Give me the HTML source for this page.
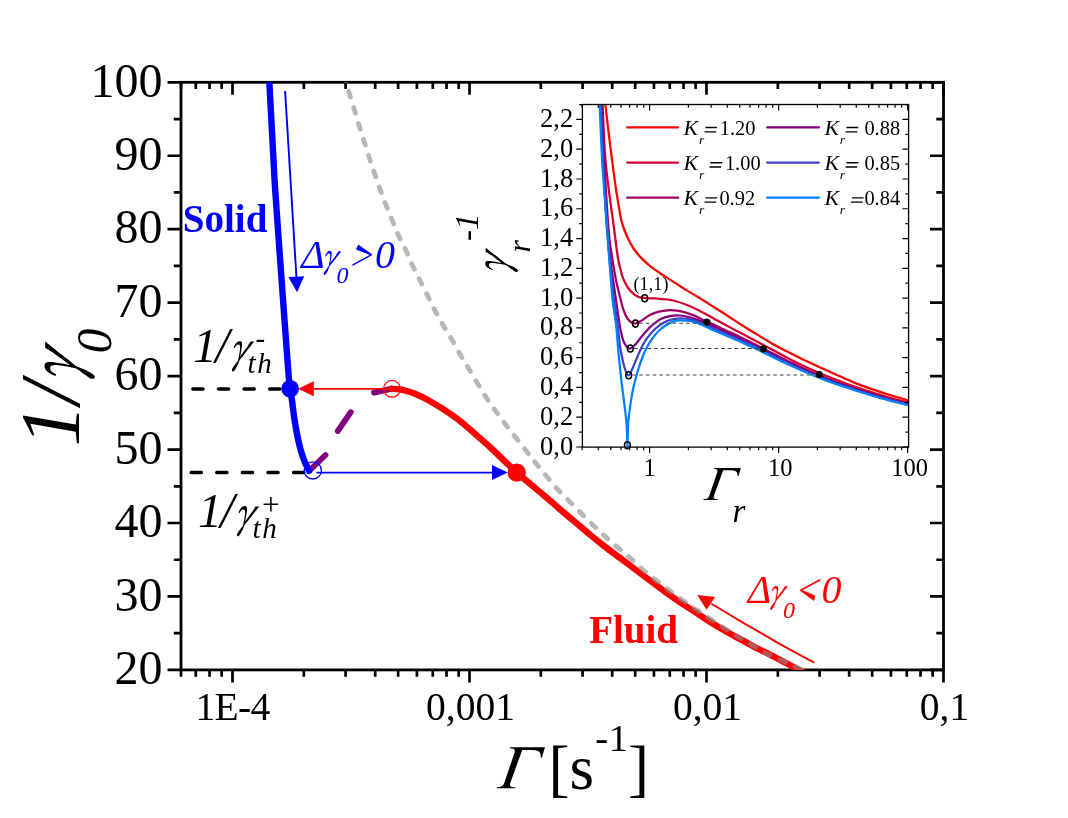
<!DOCTYPE html>
<html><head><meta charset="utf-8"><title>chart</title>
<style>
html,body{margin:0;padding:0;background:#fff;}
body{width:1068px;height:818px;overflow:hidden;}
svg{display:block;font-family:"Liberation Serif",serif;will-change:transform;}
text{fill:#000;}
</style></head><body>
<svg width="1068" height="818" viewBox="0 0 1068 818">
<rect width="1068" height="818" fill="#fff"/>
<rect x="181.0" y="82.3" width="762.5" height="587.6" fill="none" stroke="#000" stroke-width="2.8"/>
<path d="M181.00 669.9 v6.8 M181.00 82.3 v6.8 M195.79 669.9 v6.8 M195.79 82.3 v6.8 M209.53 669.9 v6.8 M209.53 82.3 v6.8 M221.66 669.9 v6.8 M221.66 82.3 v6.8 M232.50 669.9 v12.5 M232.50 82.3 v12.5 M303.84 669.9 v6.8 M303.84 82.3 v6.8 M345.58 669.9 v6.8 M345.58 82.3 v6.8 M375.19 669.9 v6.8 M375.19 82.3 v6.8 M398.16 669.9 v6.8 M398.16 82.3 v6.8 M416.92 669.9 v6.8 M416.92 82.3 v6.8 M432.79 669.9 v6.8 M432.79 82.3 v6.8 M446.53 669.9 v6.8 M446.53 82.3 v6.8 M458.66 669.9 v6.8 M458.66 82.3 v6.8 M469.50 669.9 v12.5 M469.50 82.3 v12.5 M540.84 669.9 v6.8 M540.84 82.3 v6.8 M582.58 669.9 v6.8 M582.58 82.3 v6.8 M612.19 669.9 v6.8 M612.19 82.3 v6.8 M635.16 669.9 v6.8 M635.16 82.3 v6.8 M653.92 669.9 v6.8 M653.92 82.3 v6.8 M669.79 669.9 v6.8 M669.79 82.3 v6.8 M683.53 669.9 v6.8 M683.53 82.3 v6.8 M695.66 669.9 v6.8 M695.66 82.3 v6.8 M706.50 669.9 v12.5 M706.50 82.3 v12.5 M777.84 669.9 v6.8 M777.84 82.3 v6.8 M819.58 669.9 v6.8 M819.58 82.3 v6.8 M849.19 669.9 v6.8 M849.19 82.3 v6.8 M872.16 669.9 v6.8 M872.16 82.3 v6.8 M890.92 669.9 v6.8 M890.92 82.3 v6.8 M906.79 669.9 v6.8 M906.79 82.3 v6.8 M920.53 669.9 v6.8 M920.53 82.3 v6.8 M932.66 669.9 v6.8 M932.66 82.3 v6.8 M943.50 669.9 v12.5 M943.50 82.3 v12.5 M181.0 669.90 h-13.5 M943.5 669.90 h-13.5 M181.0 633.17 h-7.2 M943.5 633.17 h-7.2 M181.0 596.45 h-13.5 M943.5 596.45 h-13.5 M181.0 559.73 h-7.2 M943.5 559.73 h-7.2 M181.0 523.00 h-13.5 M943.5 523.00 h-13.5 M181.0 486.28 h-7.2 M943.5 486.28 h-7.2 M181.0 449.55 h-13.5 M943.5 449.55 h-13.5 M181.0 412.82 h-7.2 M943.5 412.82 h-7.2 M181.0 376.10 h-13.5 M943.5 376.10 h-13.5 M181.0 339.38 h-7.2 M943.5 339.38 h-7.2 M181.0 302.65 h-13.5 M943.5 302.65 h-13.5 M181.0 265.93 h-7.2 M943.5 265.93 h-7.2 M181.0 229.20 h-13.5 M943.5 229.20 h-13.5 M181.0 192.47 h-7.2 M943.5 192.47 h-7.2 M181.0 155.75 h-13.5 M943.5 155.75 h-13.5 M181.0 119.03 h-7.2 M943.5 119.03 h-7.2 M181.0 82.30 h-13.5 M943.5 82.30 h-13.5" stroke="#000" stroke-width="2.7" fill="none"/>
<text x="162.6" y="684.1" font-size="48" text-anchor="end">20</text>
<text x="162.6" y="610.6" font-size="48" text-anchor="end">30</text>
<text x="162.6" y="537.2" font-size="48" text-anchor="end">40</text>
<text x="162.6" y="463.8" font-size="48" text-anchor="end">50</text>
<text x="162.6" y="390.3" font-size="48" text-anchor="end">60</text>
<text x="162.6" y="316.8" font-size="48" text-anchor="end">70</text>
<text x="162.6" y="243.4" font-size="48" text-anchor="end">80</text>
<text x="162.6" y="169.9" font-size="48" text-anchor="end">90</text>
<text x="162.6" y="96.5" font-size="48" text-anchor="end">100</text>
<text x="232.5" y="720.2" font-size="39.5" text-anchor="middle" letter-spacing="-0.7">1E-4</text>
<text x="470.5" y="720.2" font-size="39.5" text-anchor="middle">0,001</text>
<text x="707.5" y="720.2" font-size="39.5" text-anchor="middle">0,01</text>
<text x="944.5" y="720.2" font-size="39.5" text-anchor="middle">0,1</text>
<clipPath id="mc"><rect x="181.0" y="82.3" width="762.5" height="587.6"/></clipPath>
<g clip-path="url(#mc)">
<g stroke="#800080" stroke-width="5.8" stroke-linecap="round" fill="none">
<path d="M310.5 469.5 L325.5 455"/><path d="M337.8 431 L350.8 412.2"/><path d="M374 392.6 L392 388.6"/>
</g>
<path d="M391.30 388.80 C392.25 388.85 394.93 388.87 397.00 389.10 C399.07 389.33 400.70 389.43 403.70 390.20 C406.70 390.97 410.88 392.03 415.00 393.70 C419.12 395.37 423.57 397.53 428.40 400.20 C433.23 402.87 438.73 406.23 444.00 409.70 C449.27 413.17 454.73 416.88 460.00 421.00 C465.27 425.12 470.38 429.85 475.60 434.40 C480.82 438.95 486.43 443.82 491.30 448.30 C496.17 452.78 500.55 457.30 504.80 461.30 C509.05 465.30 512.60 468.55 516.80 472.30 C521.00 476.05 525.32 479.82 530.00 483.80 C534.68 487.78 539.92 491.97 544.90 496.20 C549.88 500.43 554.90 504.92 559.90 509.20 C564.90 513.48 569.90 517.67 574.90 521.90 C579.90 526.13 584.90 530.48 589.90 534.60 C594.90 538.72 599.90 542.72 604.90 546.60 C609.90 550.48 614.88 554.13 619.90 557.90 C624.92 561.67 629.98 565.43 635.00 569.20 C640.02 572.97 645.02 576.75 650.00 580.50 C654.98 584.25 659.92 588.08 664.90 591.70 C669.88 595.32 674.90 598.83 679.90 602.20 C684.90 605.57 689.90 608.65 694.90 611.90 C699.90 615.15 704.90 618.57 709.90 621.70 C714.90 624.83 719.90 627.83 724.90 630.70 C729.90 633.57 734.92 636.17 739.90 638.90 C744.88 641.63 749.82 644.48 754.80 647.10 C759.78 649.72 765.60 652.47 769.80 654.60 C774.00 656.73 775.40 657.50 780.00 659.90 C784.60 662.30 792.73 666.57 797.40 669.00 C802.07 671.43 806.23 673.58 808.00 674.50" fill="none" stroke="#ff0000" stroke-width="6.4" stroke-linecap="round"/>
<path d="M345.60 80.00 C346.22 82.25 347.82 88.50 349.30 93.50 C350.78 98.50 352.85 104.60 354.50 110.00 C356.15 115.40 357.57 120.60 359.20 125.90 C360.83 131.20 362.62 136.50 364.30 141.80 C365.98 147.10 367.58 152.40 369.30 157.70 C371.02 163.00 372.78 168.28 374.60 173.60 C376.42 178.92 378.27 184.28 380.20 189.60 C382.13 194.92 384.12 200.20 386.20 205.50 C388.28 210.80 390.62 216.32 392.70 221.40 C394.78 226.48 396.45 231.07 398.70 236.00 C400.95 240.93 403.85 246.00 406.20 251.00 C408.55 256.00 410.45 261.00 412.80 266.00 C415.15 271.00 417.80 276.00 420.30 281.00 C422.80 286.00 425.32 291.00 427.80 296.00 C430.28 301.00 432.55 306.00 435.20 311.00 C437.85 316.00 440.88 321.17 443.70 326.00 C446.52 330.83 449.30 335.17 452.10 340.00 C454.90 344.83 457.68 350.17 460.50 355.00 C463.32 359.83 464.60 361.77 469.00 369.00 C473.40 376.23 480.90 389.30 486.90 398.40 C492.90 407.50 498.37 414.75 505.00 423.60 C511.63 432.45 521.42 444.73 526.70 451.50 C531.98 458.27 533.28 459.95 536.70 464.20 C540.12 468.45 543.70 472.82 547.20 477.00 C550.70 481.18 553.95 485.18 557.70 489.30 C561.45 493.42 565.72 497.63 569.70 501.70 C573.68 505.77 577.62 509.70 581.60 513.70 C585.58 517.70 589.60 521.83 593.60 525.70 C597.60 529.57 601.47 533.17 605.60 536.90 C609.73 540.63 614.15 544.43 618.40 548.10 C622.65 551.77 626.83 555.13 631.10 558.90 C635.37 562.67 639.65 566.98 644.00 570.70 C648.35 574.42 652.72 577.70 657.20 581.20 C661.68 584.70 666.37 588.33 670.90 591.70 C675.43 595.07 679.90 598.23 684.40 601.40 C688.90 604.57 693.28 607.57 697.90 610.70 C702.52 613.83 707.35 617.07 712.10 620.20 C716.85 623.33 721.65 626.52 726.40 629.50 C731.15 632.48 735.87 635.23 740.60 638.10 C745.33 640.97 749.93 643.88 754.80 646.70 C759.67 649.52 762.00 651.20 769.80 655.00 C777.60 658.80 794.57 666.33 801.60 669.50 C808.63 672.67 810.27 673.25 812.00 674.00" fill="none" stroke="#8a8a8a" stroke-opacity="0.62" stroke-width="4.8" stroke-linecap="round" stroke-dasharray="6 10.7" stroke-dashoffset="-11.9"/>
</g>
<g clip-path="url(#mc)"><path d="M269.20 80.00 C269.23 80.50 268.72 70.33 269.40 83.00 C270.08 95.67 272.33 138.17 273.30 156.00 C274.27 173.83 273.82 169.33 275.20 190.00 C276.58 210.67 279.43 250.00 281.60 280.00 C283.77 310.00 286.78 351.87 288.20 370.00 C289.62 388.13 289.45 383.60 290.10 388.80 C290.75 394.00 291.40 396.28 292.10 401.20 C292.80 406.12 293.48 412.83 294.30 418.30 C295.12 423.77 295.95 428.77 297.00 434.00 C298.05 439.23 299.33 445.12 300.60 449.70 C301.87 454.28 303.18 457.98 304.60 461.50 C306.02 465.02 308.35 469.25 309.10 470.80" fill="none" stroke="#0000ff" stroke-width="6.4" stroke-linecap="round"/></g>
<path d="M192.8 389 H290" stroke="#000" stroke-width="3.3" stroke-linecap="round" stroke-dasharray="10.3 15.3" fill="none"/>
<path d="M191.1 472.5 H306" stroke="#000" stroke-width="3.3" stroke-linecap="round" stroke-dasharray="10.3 15.3" fill="none"/>
<path d="M285.1 91 L296.6 280" stroke="#0000ff" stroke-width="1.9" fill="none"/>
<path d="M297.1 292.2 L288.3 276.9 L304.2 276.2 Z" fill="#0000ff"/>
<path d="M392 388.8 H310" stroke="#ff0000" stroke-width="1.7" fill="none"/>
<path d="M298 388.8 L313.8 381.3 L313.8 396.3 Z" fill="#ff0000"/>
<path d="M316.4 472.6 H495" stroke="#0000ff" stroke-width="1.6" fill="none"/>
<path d="M507.8 472.6 L492 465.1 L492 480.1 Z" fill="#0000ff"/>
<path d="M814.20 662.60 C808.50 659.52 787.40 648.18 780.00 644.10 C772.60 640.02 776.48 641.97 769.80 638.10 C763.12 634.23 749.63 626.63 739.90 620.90 C730.17 615.17 716.15 606.57 711.40 603.70" stroke="#ff0000" stroke-width="1.9" fill="none"/>
<path d="M697.2 595.1 L715.1 596.9 L706.6 609.7 Z" fill="#ff0000"/>
<circle cx="290.1" cy="388.8" r="8.9" fill="#0000ff"/>
<circle cx="516.7" cy="472.6" r="9.2" fill="#ff0000"/>
<circle cx="312.8" cy="470.4" r="8.6" fill="none" stroke="#0000ff" stroke-width="1.3"/>
<circle cx="392" cy="388.8" r="8.4" fill="none" stroke="#ff0000" stroke-width="1.3"/>
<path d="M0.2112 -0.6507 L0.7659 -0.6507 L0.7169 -0.4865 L0.6977 -0.4929 C0.7019 -0.5633 0.6827 -0.6038 0.5761 -0.6070 L0.4054 -0.6081 L0.2155 -0.0832 C0.2027 -0.0405 0.2134 -0.0192 0.2987 -0.0160 L0.2966 0.0011 L0.0000 0.0011 L0.0021 -0.0160 C0.0747 -0.0192 0.1013 -0.0352 0.1195 -0.0832 L0.2859 -0.5739 C0.2966 -0.6166 0.2774 -0.6337 0.2091 -0.6358 Z" transform="translate(496.7 788.3) scale(63)" fill="#000" stroke="none"/>
<text x="548.6" y="788.8" font-size="63">[s</text>
<text x="595.2" y="751.2" font-size="38.5">-</text><text x="608.8" y="751.2" font-size="38.5">1</text>
<text x="628" y="788.8" font-size="63">]</text>
<g transform="translate(79.3 446.6) rotate(-90)"><text x="0" y="0" font-size="84" font-style="italic">1/</text><path d="M0.4486 -0.4063 C0.4302 -0.3831 0.3738 -0.3126 0.3381 -0.2670 C0.3024 -0.2215 0.2628 -0.1688 0.2343 -0.1331 C0.2059 -0.0974 0.1830 -0.0751 0.1674 -0.0528 C0.1518 -0.0304 0.1495 -0.0193 0.1406 0.0008 C0.1317 0.0209 0.1244 0.0454 0.1138 0.0678 C0.1032 0.0901 0.0882 0.1169 0.0770 0.1347 C0.0658 0.1526 0.0547 0.1665 0.0469 0.1749 C0.0391 0.1833 0.0357 0.1844 0.0301 0.1849 C0.0246 0.1855 0.0173 0.1833 0.0134 0.1782 C0.0095 0.1732 0.0061 0.1643 0.0067 0.1548 C0.0073 0.1453 0.0089 0.1358 0.0167 0.1213 C0.0246 0.1068 0.0407 0.0856 0.0536 0.0678 C0.0664 0.0499 0.0820 0.0298 0.0937 0.0142 C0.1055 -0.0014 0.1181 -0.0171 0.1239 -0.0260 C0.1297 -0.0349 0.1278 -0.0371 0.1286 -0.0394 C0.1306 -0.0483 0.1364 -0.0717 0.1406 -0.0929 C0.1448 -0.1141 0.1501 -0.1432 0.1540 -0.1666 C0.1579 -0.1900 0.1616 -0.2112 0.1640 -0.2335 C0.1665 -0.2559 0.1693 -0.2838 0.1687 -0.3005 C0.1682 -0.3172 0.1665 -0.3262 0.1607 -0.3340 C0.1549 -0.3418 0.1428 -0.3463 0.1339 -0.3474 C0.1250 -0.3485 0.1161 -0.3463 0.1071 -0.3407 C0.0982 -0.3351 0.0882 -0.3245 0.0803 -0.3139 C0.0725 -0.3033 0.0636 -0.2832 0.0603 -0.2771 L0.0402 -0.2804 C0.0424 -0.2871 0.0458 -0.3050 0.0536 -0.3206 C0.0614 -0.3362 0.0759 -0.3602 0.0870 -0.3742 C0.0982 -0.3881 0.1094 -0.3976 0.1205 -0.4043 C0.1317 -0.4110 0.1428 -0.4138 0.1540 -0.4143 C0.1652 -0.4149 0.1791 -0.4132 0.1875 -0.4076 C0.1958 -0.4021 0.2011 -0.3931 0.2042 -0.3809 C0.2073 -0.3686 0.2073 -0.3530 0.2062 -0.3340 C0.2051 -0.3150 0.2012 -0.2916 0.1975 -0.2670 C0.1938 -0.2425 0.1892 -0.2123 0.1841 -0.1867 C0.1791 -0.1610 0.1702 -0.1253 0.1674 -0.1130 C0.1786 -0.1275 0.2109 -0.1688 0.2343 -0.2001 C0.2578 -0.2313 0.2846 -0.2661 0.3080 -0.3005 C0.3314 -0.3349 0.3638 -0.3887 0.3750 -0.4063 Z" transform="translate(67.3 0) scale(84)" fill="#000" stroke="none"/><text x="93.2" y="31.7" font-size="50" font-style="italic">0</text></g>
<text x="182.8" y="231.6" font-size="39" font-weight="bold" fill="#0000ff" style="fill:#0000ff">Solid</text>
<text x="589.2" y="642.7" font-size="39" font-weight="bold" style="fill:#ff0000">Fluid</text>
<g style="fill:#0000ff" font-style="italic"><text x="301.3" y="267.5" font-size="40" style="fill:#0000ff">Δ</text><path d="M0.4486 -0.4063 C0.4302 -0.3831 0.3738 -0.3126 0.3381 -0.2670 C0.3024 -0.2215 0.2628 -0.1688 0.2343 -0.1331 C0.2059 -0.0974 0.1830 -0.0751 0.1674 -0.0528 C0.1518 -0.0304 0.1495 -0.0193 0.1406 0.0008 C0.1317 0.0209 0.1244 0.0454 0.1138 0.0678 C0.1032 0.0901 0.0882 0.1169 0.0770 0.1347 C0.0658 0.1526 0.0547 0.1665 0.0469 0.1749 C0.0391 0.1833 0.0357 0.1844 0.0301 0.1849 C0.0246 0.1855 0.0173 0.1833 0.0134 0.1782 C0.0095 0.1732 0.0061 0.1643 0.0067 0.1548 C0.0073 0.1453 0.0089 0.1358 0.0167 0.1213 C0.0246 0.1068 0.0407 0.0856 0.0536 0.0678 C0.0664 0.0499 0.0820 0.0298 0.0937 0.0142 C0.1055 -0.0014 0.1181 -0.0171 0.1239 -0.0260 C0.1297 -0.0349 0.1278 -0.0371 0.1286 -0.0394 C0.1306 -0.0483 0.1364 -0.0717 0.1406 -0.0929 C0.1448 -0.1141 0.1501 -0.1432 0.1540 -0.1666 C0.1579 -0.1900 0.1616 -0.2112 0.1640 -0.2335 C0.1665 -0.2559 0.1693 -0.2838 0.1687 -0.3005 C0.1682 -0.3172 0.1665 -0.3262 0.1607 -0.3340 C0.1549 -0.3418 0.1428 -0.3463 0.1339 -0.3474 C0.1250 -0.3485 0.1161 -0.3463 0.1071 -0.3407 C0.0982 -0.3351 0.0882 -0.3245 0.0803 -0.3139 C0.0725 -0.3033 0.0636 -0.2832 0.0603 -0.2771 L0.0402 -0.2804 C0.0424 -0.2871 0.0458 -0.3050 0.0536 -0.3206 C0.0614 -0.3362 0.0759 -0.3602 0.0870 -0.3742 C0.0982 -0.3881 0.1094 -0.3976 0.1205 -0.4043 C0.1317 -0.4110 0.1428 -0.4138 0.1540 -0.4143 C0.1652 -0.4149 0.1791 -0.4132 0.1875 -0.4076 C0.1958 -0.4021 0.2011 -0.3931 0.2042 -0.3809 C0.2073 -0.3686 0.2073 -0.3530 0.2062 -0.3340 C0.2051 -0.3150 0.2012 -0.2916 0.1975 -0.2670 C0.1938 -0.2425 0.1892 -0.2123 0.1841 -0.1867 C0.1791 -0.1610 0.1702 -0.1253 0.1674 -0.1130 C0.1786 -0.1275 0.2109 -0.1688 0.2343 -0.2001 C0.2578 -0.2313 0.2846 -0.2661 0.3080 -0.3005 C0.3314 -0.3349 0.3638 -0.3887 0.3750 -0.4063 Z" transform="translate(323.5 267.5) scale(40)" fill="#0000ff" stroke="none"/><text x="336.5" y="283.0" font-size="24" style="fill:#0000ff">0</text><text x="375.0" y="267.5" font-size="40" style="fill:#0000ff">0</text></g>
<path d="M358.2 244.4 L371.6 254.0 L371.3 255.6 L356.0 249.6 Z" fill="#0000ff"/>
<path d="M371.2 254.9 L353.0 264.9" stroke="#0000ff" stroke-width="1.5" fill="none" stroke-linecap="round"/>
<g style="fill:#ff0000" font-style="italic"><text x="747.8" y="602.5" font-size="40" style="fill:#ff0000">Δ</text><path d="M0.4486 -0.4063 C0.4302 -0.3831 0.3738 -0.3126 0.3381 -0.2670 C0.3024 -0.2215 0.2628 -0.1688 0.2343 -0.1331 C0.2059 -0.0974 0.1830 -0.0751 0.1674 -0.0528 C0.1518 -0.0304 0.1495 -0.0193 0.1406 0.0008 C0.1317 0.0209 0.1244 0.0454 0.1138 0.0678 C0.1032 0.0901 0.0882 0.1169 0.0770 0.1347 C0.0658 0.1526 0.0547 0.1665 0.0469 0.1749 C0.0391 0.1833 0.0357 0.1844 0.0301 0.1849 C0.0246 0.1855 0.0173 0.1833 0.0134 0.1782 C0.0095 0.1732 0.0061 0.1643 0.0067 0.1548 C0.0073 0.1453 0.0089 0.1358 0.0167 0.1213 C0.0246 0.1068 0.0407 0.0856 0.0536 0.0678 C0.0664 0.0499 0.0820 0.0298 0.0937 0.0142 C0.1055 -0.0014 0.1181 -0.0171 0.1239 -0.0260 C0.1297 -0.0349 0.1278 -0.0371 0.1286 -0.0394 C0.1306 -0.0483 0.1364 -0.0717 0.1406 -0.0929 C0.1448 -0.1141 0.1501 -0.1432 0.1540 -0.1666 C0.1579 -0.1900 0.1616 -0.2112 0.1640 -0.2335 C0.1665 -0.2559 0.1693 -0.2838 0.1687 -0.3005 C0.1682 -0.3172 0.1665 -0.3262 0.1607 -0.3340 C0.1549 -0.3418 0.1428 -0.3463 0.1339 -0.3474 C0.1250 -0.3485 0.1161 -0.3463 0.1071 -0.3407 C0.0982 -0.3351 0.0882 -0.3245 0.0803 -0.3139 C0.0725 -0.3033 0.0636 -0.2832 0.0603 -0.2771 L0.0402 -0.2804 C0.0424 -0.2871 0.0458 -0.3050 0.0536 -0.3206 C0.0614 -0.3362 0.0759 -0.3602 0.0870 -0.3742 C0.0982 -0.3881 0.1094 -0.3976 0.1205 -0.4043 C0.1317 -0.4110 0.1428 -0.4138 0.1540 -0.4143 C0.1652 -0.4149 0.1791 -0.4132 0.1875 -0.4076 C0.1958 -0.4021 0.2011 -0.3931 0.2042 -0.3809 C0.2073 -0.3686 0.2073 -0.3530 0.2062 -0.3340 C0.2051 -0.3150 0.2012 -0.2916 0.1975 -0.2670 C0.1938 -0.2425 0.1892 -0.2123 0.1841 -0.1867 C0.1791 -0.1610 0.1702 -0.1253 0.1674 -0.1130 C0.1786 -0.1275 0.2109 -0.1688 0.2343 -0.2001 C0.2578 -0.2313 0.2846 -0.2661 0.3080 -0.3005 C0.3314 -0.3349 0.3638 -0.3887 0.3750 -0.4063 Z" transform="translate(770.0 602.5) scale(40)" fill="#ff0000" stroke="none"/><text x="783" y="618.0" font-size="24" style="fill:#ff0000">0</text><text x="821.5" y="602.5" font-size="40" style="fill:#ff0000">0</text></g>
<path d="M800.7 589.3 L815.4 595.8 L814.0 601.1 L800.4 590.9 Z" fill="#ff0000"/>
<path d="M801.0 590.0 L819.8 580.0" stroke="#ff0000" stroke-width="1.5" fill="none" stroke-linecap="round"/>
<g font-style="italic"><text x="193" y="362.1" font-size="48">1</text><text x="215.2" y="362.1" font-size="50">/</text><path d="M0.4486 -0.4063 C0.4302 -0.3831 0.3738 -0.3126 0.3381 -0.2670 C0.3024 -0.2215 0.2628 -0.1688 0.2343 -0.1331 C0.2059 -0.0974 0.1830 -0.0751 0.1674 -0.0528 C0.1518 -0.0304 0.1495 -0.0193 0.1406 0.0008 C0.1317 0.0209 0.1244 0.0454 0.1138 0.0678 C0.1032 0.0901 0.0882 0.1169 0.0770 0.1347 C0.0658 0.1526 0.0547 0.1665 0.0469 0.1749 C0.0391 0.1833 0.0357 0.1844 0.0301 0.1849 C0.0246 0.1855 0.0173 0.1833 0.0134 0.1782 C0.0095 0.1732 0.0061 0.1643 0.0067 0.1548 C0.0073 0.1453 0.0089 0.1358 0.0167 0.1213 C0.0246 0.1068 0.0407 0.0856 0.0536 0.0678 C0.0664 0.0499 0.0820 0.0298 0.0937 0.0142 C0.1055 -0.0014 0.1181 -0.0171 0.1239 -0.0260 C0.1297 -0.0349 0.1278 -0.0371 0.1286 -0.0394 C0.1306 -0.0483 0.1364 -0.0717 0.1406 -0.0929 C0.1448 -0.1141 0.1501 -0.1432 0.1540 -0.1666 C0.1579 -0.1900 0.1616 -0.2112 0.1640 -0.2335 C0.1665 -0.2559 0.1693 -0.2838 0.1687 -0.3005 C0.1682 -0.3172 0.1665 -0.3262 0.1607 -0.3340 C0.1549 -0.3418 0.1428 -0.3463 0.1339 -0.3474 C0.1250 -0.3485 0.1161 -0.3463 0.1071 -0.3407 C0.0982 -0.3351 0.0882 -0.3245 0.0803 -0.3139 C0.0725 -0.3033 0.0636 -0.2832 0.0603 -0.2771 L0.0402 -0.2804 C0.0424 -0.2871 0.0458 -0.3050 0.0536 -0.3206 C0.0614 -0.3362 0.0759 -0.3602 0.0870 -0.3742 C0.0982 -0.3881 0.1094 -0.3976 0.1205 -0.4043 C0.1317 -0.4110 0.1428 -0.4138 0.1540 -0.4143 C0.1652 -0.4149 0.1791 -0.4132 0.1875 -0.4076 C0.1958 -0.4021 0.2011 -0.3931 0.2042 -0.3809 C0.2073 -0.3686 0.2073 -0.3530 0.2062 -0.3340 C0.2051 -0.3150 0.2012 -0.2916 0.1975 -0.2670 C0.1938 -0.2425 0.1892 -0.2123 0.1841 -0.1867 C0.1791 -0.1610 0.1702 -0.1253 0.1674 -0.1130 C0.1786 -0.1275 0.2109 -0.1688 0.2343 -0.2001 C0.2578 -0.2313 0.2846 -0.2661 0.3080 -0.3005 C0.3314 -0.3349 0.3638 -0.3887 0.3750 -0.4063 Z" transform="translate(231.6 362.1) scale(50.5)" fill="#000" stroke="none"/><text x="247.6" y="372.8" font-size="29" letter-spacing="1.7">th</text></g>
<text x="255.6" y="347.70000000000005" font-size="29">-</text>
<g font-style="italic"><text x="198" y="527" font-size="48">1</text><text x="220.2" y="527" font-size="50">/</text><path d="M0.4486 -0.4063 C0.4302 -0.3831 0.3738 -0.3126 0.3381 -0.2670 C0.3024 -0.2215 0.2628 -0.1688 0.2343 -0.1331 C0.2059 -0.0974 0.1830 -0.0751 0.1674 -0.0528 C0.1518 -0.0304 0.1495 -0.0193 0.1406 0.0008 C0.1317 0.0209 0.1244 0.0454 0.1138 0.0678 C0.1032 0.0901 0.0882 0.1169 0.0770 0.1347 C0.0658 0.1526 0.0547 0.1665 0.0469 0.1749 C0.0391 0.1833 0.0357 0.1844 0.0301 0.1849 C0.0246 0.1855 0.0173 0.1833 0.0134 0.1782 C0.0095 0.1732 0.0061 0.1643 0.0067 0.1548 C0.0073 0.1453 0.0089 0.1358 0.0167 0.1213 C0.0246 0.1068 0.0407 0.0856 0.0536 0.0678 C0.0664 0.0499 0.0820 0.0298 0.0937 0.0142 C0.1055 -0.0014 0.1181 -0.0171 0.1239 -0.0260 C0.1297 -0.0349 0.1278 -0.0371 0.1286 -0.0394 C0.1306 -0.0483 0.1364 -0.0717 0.1406 -0.0929 C0.1448 -0.1141 0.1501 -0.1432 0.1540 -0.1666 C0.1579 -0.1900 0.1616 -0.2112 0.1640 -0.2335 C0.1665 -0.2559 0.1693 -0.2838 0.1687 -0.3005 C0.1682 -0.3172 0.1665 -0.3262 0.1607 -0.3340 C0.1549 -0.3418 0.1428 -0.3463 0.1339 -0.3474 C0.1250 -0.3485 0.1161 -0.3463 0.1071 -0.3407 C0.0982 -0.3351 0.0882 -0.3245 0.0803 -0.3139 C0.0725 -0.3033 0.0636 -0.2832 0.0603 -0.2771 L0.0402 -0.2804 C0.0424 -0.2871 0.0458 -0.3050 0.0536 -0.3206 C0.0614 -0.3362 0.0759 -0.3602 0.0870 -0.3742 C0.0982 -0.3881 0.1094 -0.3976 0.1205 -0.4043 C0.1317 -0.4110 0.1428 -0.4138 0.1540 -0.4143 C0.1652 -0.4149 0.1791 -0.4132 0.1875 -0.4076 C0.1958 -0.4021 0.2011 -0.3931 0.2042 -0.3809 C0.2073 -0.3686 0.2073 -0.3530 0.2062 -0.3340 C0.2051 -0.3150 0.2012 -0.2916 0.1975 -0.2670 C0.1938 -0.2425 0.1892 -0.2123 0.1841 -0.1867 C0.1791 -0.1610 0.1702 -0.1253 0.1674 -0.1130 C0.1786 -0.1275 0.2109 -0.1688 0.2343 -0.2001 C0.2578 -0.2313 0.2846 -0.2661 0.3080 -0.3005 C0.3314 -0.3349 0.3638 -0.3887 0.3750 -0.4063 Z" transform="translate(236.6 527) scale(50.5)" fill="#000" stroke="none"/><text x="252.6" y="537.7" font-size="29" letter-spacing="1.7">th</text></g>
<text x="262.0" y="515.3" font-size="31.5">+</text>
<rect x="582.4" y="104.5" width="326.20000000000005" height="342.6" fill="#fff" stroke="none"/>
<clipPath id="ic"><rect x="582.4" y="104.5" width="326.20000000000005" height="342.6"/></clipPath>
<g clip-path="url(#ic)" fill="none" stroke-width="2.25" stroke-linejoin="round">
<path d="M604.60 95.00 C604.73 96.58 604.78 98.67 605.40 104.50 C606.02 110.33 607.40 122.42 608.30 130.00 C609.20 137.58 609.95 143.27 610.80 150.00 C611.65 156.73 612.52 163.75 613.40 170.40 C614.28 177.05 615.12 183.40 616.10 189.90 C617.08 196.40 618.45 204.38 619.30 209.40 C620.15 214.42 620.47 216.90 621.20 220.00 C621.93 223.10 622.53 224.83 623.70 228.00 C624.87 231.17 626.45 235.42 628.20 239.00 C629.95 242.58 631.95 246.27 634.20 249.50 C636.45 252.73 639.08 255.67 641.70 258.40 C644.32 261.13 646.53 263.22 649.90 265.90 C653.27 268.58 657.90 271.80 661.90 274.50 C665.90 277.20 669.90 279.53 673.90 282.10 C677.90 284.67 681.90 287.42 685.90 289.90 C689.90 292.38 693.90 294.55 697.90 297.00 C701.90 299.45 705.92 302.10 709.90 304.60 C713.88 307.10 717.82 309.45 721.80 312.00 C725.78 314.55 729.70 317.23 733.80 319.90 C737.90 322.57 742.55 325.58 746.40 328.00 C750.25 330.42 752.35 331.67 756.90 334.40 C761.45 337.13 768.08 341.27 773.70 344.40 C779.32 347.53 784.98 350.33 790.60 353.20 C796.22 356.07 801.78 358.93 807.40 361.60 C813.02 364.27 818.68 366.67 824.30 369.20 C829.92 371.73 835.48 374.32 841.10 376.80 C846.72 379.28 852.38 381.88 858.00 384.10 C863.62 386.32 869.18 388.20 874.80 390.10 C880.42 392.00 886.08 393.78 891.70 395.50 C897.32 397.22 904.62 399.27 908.50 400.40 C912.38 401.53 913.92 401.98 915.00 402.30" stroke="#ff0000"/>
<path d="M601.90 95.00 C602.02 96.58 602.13 95.33 602.60 104.50 C603.07 113.67 603.97 138.25 604.70 150.00 C605.43 161.75 606.18 167.33 607.00 175.00 C607.82 182.67 608.48 187.50 609.60 196.00 C610.72 204.50 612.33 215.83 613.70 226.00 C615.07 236.17 616.63 249.67 617.80 257.00 C618.97 264.33 619.97 266.83 620.70 270.00 C621.43 273.17 621.52 274.00 622.20 276.00 C622.88 278.00 623.80 280.00 624.80 282.00 C625.80 284.00 626.88 286.13 628.20 288.00 C629.52 289.87 631.08 291.77 632.70 293.20 C634.32 294.63 635.90 295.77 637.90 296.60 C639.90 297.43 641.70 297.90 644.70 298.20 C647.70 298.50 653.35 298.28 655.90 298.40 C658.45 298.52 657.12 298.55 660.00 298.90 C662.88 299.25 668.80 299.52 673.20 300.50 C677.60 301.48 682.00 303.08 686.40 304.80 C690.80 306.52 695.20 308.60 699.60 310.80 C704.00 313.00 708.40 315.58 712.80 318.00 C717.20 320.42 721.47 322.87 726.00 325.30 C730.53 327.73 735.00 329.98 740.00 332.60 C745.00 335.23 750.67 338.22 756.00 341.04 C761.33 343.86 766.33 346.50 772.00 349.52 C777.67 352.55 784.00 356.13 790.00 359.20 C796.00 362.26 802.00 365.15 808.00 367.92 C814.00 370.70 820.00 373.36 826.00 375.82 C832.00 378.29 838.00 380.51 844.00 382.73 C850.00 384.94 856.00 387.09 862.00 389.11 C868.00 391.13 874.00 393.07 880.00 394.86 C886.00 396.65 893.25 398.55 898.00 399.85 C902.75 401.14 905.67 401.88 908.50 402.63 C911.33 403.37 913.92 404.02 915.00 404.30" stroke="#d40032"/>
<path d="M601.00 95.00 C601.12 96.58 601.17 93.67 601.70 104.50 C602.23 115.33 603.40 144.08 604.20 160.00 C605.00 175.92 605.65 187.08 606.50 200.00 C607.35 212.92 608.30 227.50 609.30 237.50 C610.30 247.50 611.35 252.75 612.50 260.00 C613.65 267.25 614.83 274.33 616.20 281.00 C617.57 287.67 619.45 295.08 620.70 300.00 C621.95 304.92 622.57 307.38 623.70 310.50 C624.83 313.62 626.13 316.65 627.50 318.70 C628.87 320.75 630.58 322.00 631.90 322.80 C633.22 323.60 633.90 323.80 635.40 323.50 C636.90 323.20 638.48 322.42 640.90 321.00 C643.32 319.58 646.90 316.55 649.90 315.00 C652.90 313.45 655.90 312.48 658.90 311.70 C661.90 310.92 664.90 310.47 667.90 310.30 C670.90 310.13 673.90 310.32 676.90 310.70 C679.90 311.08 682.90 311.73 685.90 312.60 C688.90 313.47 691.52 314.45 694.90 315.90 C698.28 317.35 702.67 319.65 706.20 321.30 C709.73 322.95 712.80 324.28 716.10 325.80 C719.40 327.32 722.02 328.55 726.00 330.40 C729.98 332.25 735.00 334.53 740.00 336.92 C745.00 339.30 750.67 342.05 756.00 344.72 C761.33 347.39 766.33 350.04 772.00 352.94 C777.67 355.85 784.00 359.21 790.00 362.13 C796.00 365.05 802.00 367.83 808.00 370.48 C814.00 373.13 820.00 375.66 826.00 378.02 C832.00 380.39 838.00 382.53 844.00 384.66 C850.00 386.78 856.00 388.81 862.00 390.76 C868.00 392.70 874.00 394.58 880.00 396.33 C886.00 398.07 893.25 399.94 898.00 401.20 C902.75 402.47 905.67 403.19 908.50 403.91 C911.33 404.63 913.92 405.27 915.00 405.55" stroke="#a00060"/>
<path d="M600.50 95.00 C600.62 96.58 600.68 93.67 601.20 104.50 C601.72 115.33 602.83 144.08 603.60 160.00 C604.37 175.92 605.03 187.08 605.80 200.00 C606.57 212.92 607.33 226.67 608.20 237.50 C609.07 248.33 610.07 257.08 611.00 265.00 C611.93 272.92 612.97 279.17 613.80 285.00 C614.63 290.83 615.20 294.50 616.00 300.00 C616.80 305.50 617.80 312.83 618.60 318.00 C619.40 323.17 619.93 327.00 620.80 331.00 C621.67 335.00 622.77 339.35 623.80 342.00 C624.83 344.65 625.92 345.82 627.00 346.90 C628.08 347.98 628.80 349.03 630.30 348.50 C631.80 347.97 634.07 345.75 636.00 343.70 C637.93 341.65 639.92 338.57 641.90 336.20 C643.88 333.83 646.15 331.37 647.90 329.50 C649.65 327.63 650.32 326.70 652.40 325.00 C654.48 323.30 657.48 320.77 660.40 319.30 C663.32 317.83 666.67 316.83 669.90 316.20 C673.13 315.57 676.50 315.30 679.80 315.50 C683.10 315.70 686.40 316.53 689.70 317.40 C693.00 318.27 696.30 319.50 699.60 320.70 C702.90 321.90 705.10 322.68 709.50 324.60 C713.90 326.52 720.92 329.88 726.00 332.20 C731.08 334.52 735.00 336.22 740.00 338.54 C745.00 340.85 750.67 343.48 756.00 346.09 C761.33 348.71 766.33 351.37 772.00 354.23 C777.67 357.08 784.00 360.37 790.00 363.23 C796.00 366.10 802.00 368.83 808.00 371.43 C814.00 374.04 820.00 376.52 826.00 378.85 C832.00 381.17 838.00 383.29 844.00 385.38 C850.00 387.47 856.00 389.46 862.00 391.37 C868.00 393.29 874.00 395.15 880.00 396.88 C886.00 398.60 893.25 400.46 898.00 401.71 C902.75 402.97 905.67 403.67 908.50 404.39 C911.33 405.11 913.92 405.75 915.00 406.02" stroke="#800080"/>
<path d="M600.00 95.00 C600.12 96.58 600.20 93.67 600.70 104.50 C601.20 115.33 602.28 144.08 603.00 160.00 C603.72 175.92 604.33 188.33 605.00 200.00 C605.67 211.67 606.25 220.00 607.00 230.00 C607.75 240.00 608.67 251.17 609.50 260.00 C610.33 268.83 611.25 276.33 612.00 283.00 C612.75 289.67 613.07 293.00 614.00 300.00 C614.93 307.00 616.57 317.08 617.60 325.00 C618.63 332.92 619.27 341.25 620.20 347.50 C621.13 353.75 622.27 358.52 623.20 362.50 C624.13 366.48 624.88 369.25 625.80 371.40 C626.72 373.55 627.63 375.77 628.70 375.40 C629.77 375.03 630.73 372.35 632.20 369.20 C633.67 366.05 635.88 360.25 637.50 356.50 C639.12 352.75 640.42 349.58 641.90 346.70 C643.38 343.82 644.65 341.70 646.40 339.20 C648.15 336.70 650.27 333.95 652.40 331.70 C654.53 329.45 656.87 327.45 659.20 325.70 C661.53 323.95 663.70 322.35 666.40 321.20 C669.10 320.05 672.65 319.25 675.40 318.80 C678.15 318.35 680.52 318.42 682.90 318.50 C685.28 318.58 686.92 318.65 689.70 319.30 C692.48 319.95 695.75 320.92 699.60 322.40 C703.45 323.88 708.40 326.23 712.80 328.20 C717.20 330.17 721.47 332.18 726.00 334.20 C730.53 336.22 735.00 338.09 740.00 340.33 C745.00 342.57 750.67 345.07 756.00 347.63 C761.33 350.18 766.33 352.85 772.00 355.65 C777.67 358.46 784.00 361.65 790.00 364.46 C796.00 367.26 802.00 369.95 808.00 372.50 C814.00 375.05 820.00 377.48 826.00 379.77 C832.00 382.05 838.00 384.13 844.00 386.18 C850.00 388.23 856.00 390.17 862.00 392.06 C868.00 393.94 874.00 395.78 880.00 397.49 C886.00 399.19 893.25 401.04 898.00 402.28 C902.75 403.52 905.67 404.22 908.50 404.93 C911.33 405.64 913.92 406.27 915.00 406.54" stroke="#4040c8"/>
<path d="M598.90 95.00 C599.02 96.58 599.07 93.67 599.60 104.50 C600.13 115.33 601.25 144.75 602.10 160.00 C602.95 175.25 603.88 185.17 604.70 196.00 C605.52 206.83 606.25 214.83 607.00 225.00 C607.75 235.17 608.27 244.50 609.20 257.00 C610.13 269.50 611.45 288.67 612.60 300.00 C613.75 311.33 615.08 315.83 616.10 325.00 C617.12 334.17 617.83 345.83 618.70 355.00 C619.57 364.17 620.55 373.33 621.30 380.00 C622.05 386.67 622.57 390.00 623.20 395.00 C623.83 400.00 624.53 405.00 625.10 410.00 C625.67 415.00 626.20 418.92 626.60 425.00 C627.00 431.08 627.35 442.92 627.50 446.50 M627.50 446.50 C627.60 442.92 627.82 430.47 628.10 425.00 C628.38 419.53 628.77 417.45 629.20 413.70 C629.63 409.95 630.13 406.25 630.70 402.50 C631.27 398.75 632.08 393.95 632.60 391.20 C633.12 388.45 633.23 388.30 633.80 386.00 C634.37 383.70 635.13 380.57 636.00 377.40 C636.87 374.23 637.88 370.48 639.00 367.00 C640.12 363.52 641.33 359.88 642.70 356.50 C644.07 353.12 645.58 349.70 647.20 346.70 C648.82 343.70 650.53 341.08 652.40 338.50 C654.27 335.92 656.15 333.42 658.40 331.20 C660.65 328.98 663.43 326.80 665.90 325.20 C668.37 323.60 670.88 322.42 673.20 321.60 C675.52 320.78 677.05 320.40 679.80 320.30 C682.55 320.20 686.40 320.38 689.70 321.00 C693.00 321.62 695.75 322.52 699.60 324.00 C703.45 325.48 708.40 327.98 712.80 329.90 C717.20 331.82 721.47 333.55 726.00 335.50 C730.53 337.45 735.00 339.39 740.00 341.59 C745.00 343.79 750.67 346.19 756.00 348.70 C761.33 351.21 766.33 353.88 772.00 356.65 C777.67 359.42 784.00 362.55 790.00 365.31 C796.00 368.08 802.00 370.73 808.00 373.24 C814.00 375.76 820.00 378.16 826.00 380.41 C832.00 382.66 838.00 384.72 844.00 386.74 C850.00 388.77 856.00 390.68 862.00 392.54 C868.00 394.40 874.00 396.23 880.00 397.92 C886.00 399.60 893.25 401.44 898.00 402.68 C902.75 403.91 905.67 404.60 908.50 405.30 C911.33 406.00 913.92 406.63 915.00 406.90" stroke="#0080ff"/>
</g>
<path d="M639 323.3 H704" stroke="#505050" stroke-width="1.1" stroke-dasharray="3.8 2.9" fill="none"/>
<path d="M634 348.5 H760" stroke="#404040" stroke-width="1.15" stroke-dasharray="3.8 2.9" fill="none"/>
<path d="M632.6 375 H816" stroke="#808080" stroke-width="1.6" stroke-dasharray="3.5 3.2" fill="none"/>
<ellipse cx="644.7" cy="298.3" rx="2.9" ry="3.5" fill="none" stroke="#000" stroke-width="1.55"/>
<ellipse cx="635.4" cy="323.6" rx="2.9" ry="3.5" fill="none" stroke="#000" stroke-width="1.55"/>
<ellipse cx="630.3" cy="348.5" rx="2.9" ry="3.5" fill="none" stroke="#000" stroke-width="1.55"/>
<ellipse cx="628.7" cy="375.2" rx="2.9" ry="3.5" fill="none" stroke="#000" stroke-width="1.55"/>
<ellipse cx="627.4" cy="445.3" rx="2.9" ry="3.5" fill="none" stroke="#000" stroke-width="1.55"/>
<circle cx="706.9" cy="322.1" r="3.55" fill="#000"/>
<circle cx="763.3" cy="348.9" r="3.55" fill="#000"/>
<circle cx="819.2" cy="374.5" r="3.55" fill="#000"/>
<rect x="582.4" y="104.5" width="326.20000000000005" height="342.6" fill="none" stroke="#000" stroke-width="1.3"/>
<path d="M582.15 447.1 v3.2 M582.15 104.5 v3.2 M598.27 447.1 v3.2 M598.27 104.5 v3.2 M610.77 447.1 v3.2 M610.77 104.5 v3.2 M620.98 447.1 v3.2 M620.98 104.5 v3.2 M629.62 447.1 v3.2 M629.62 104.5 v3.2 M637.10 447.1 v3.2 M637.10 104.5 v3.2 M643.70 447.1 v3.2 M643.70 104.5 v3.2 M649.60 447.1 v6.0 M649.60 104.5 v6.0 M688.43 447.1 v3.2 M688.43 104.5 v3.2 M711.15 447.1 v3.2 M711.15 104.5 v3.2 M727.27 447.1 v3.2 M727.27 104.5 v3.2 M739.77 447.1 v3.2 M739.77 104.5 v3.2 M749.98 447.1 v3.2 M749.98 104.5 v3.2 M758.62 447.1 v3.2 M758.62 104.5 v3.2 M766.10 447.1 v3.2 M766.10 104.5 v3.2 M772.70 447.1 v3.2 M772.70 104.5 v3.2 M778.60 447.1 v6.0 M778.60 104.5 v6.0 M817.43 447.1 v3.2 M817.43 104.5 v3.2 M840.15 447.1 v3.2 M840.15 104.5 v3.2 M856.27 447.1 v3.2 M856.27 104.5 v3.2 M868.77 447.1 v3.2 M868.77 104.5 v3.2 M878.98 447.1 v3.2 M878.98 104.5 v3.2 M887.62 447.1 v3.2 M887.62 104.5 v3.2 M895.10 447.1 v3.2 M895.10 104.5 v3.2 M901.70 447.1 v3.2 M901.70 104.5 v3.2 M907.60 447.1 v6.0 M907.60 104.5 v6.0 M582.4 447.00 h-6.2 M908.6 447.00 h-6.2 M582.4 432.11 h-3.2 M908.6 432.11 h-3.2 M582.4 417.22 h-6.2 M908.6 417.22 h-6.2 M582.4 402.33 h-3.2 M908.6 402.33 h-3.2 M582.4 387.44 h-6.2 M908.6 387.44 h-6.2 M582.4 372.55 h-3.2 M908.6 372.55 h-3.2 M582.4 357.66 h-6.2 M908.6 357.66 h-6.2 M582.4 342.77 h-3.2 M908.6 342.77 h-3.2 M582.4 327.88 h-6.2 M908.6 327.88 h-6.2 M582.4 312.99 h-3.2 M908.6 312.99 h-3.2 M582.4 298.10 h-6.2 M908.6 298.10 h-6.2 M582.4 283.21 h-3.2 M908.6 283.21 h-3.2 M582.4 268.32 h-6.2 M908.6 268.32 h-6.2 M582.4 253.43 h-3.2 M908.6 253.43 h-3.2 M582.4 238.54 h-6.2 M908.6 238.54 h-6.2 M582.4 223.65 h-3.2 M908.6 223.65 h-3.2 M582.4 208.76 h-6.2 M908.6 208.76 h-6.2 M582.4 193.87 h-3.2 M908.6 193.87 h-3.2 M582.4 178.98 h-6.2 M908.6 178.98 h-6.2 M582.4 164.09 h-3.2 M908.6 164.09 h-3.2 M582.4 149.20 h-6.2 M908.6 149.20 h-6.2 M582.4 134.31 h-3.2 M908.6 134.31 h-3.2 M582.4 119.42 h-6.2 M908.6 119.42 h-6.2 M582.4 104.53 h-3.2 M908.6 104.53 h-3.2" stroke="#000" stroke-width="1.2" fill="none"/>
<text x="573.2" y="454.5" font-size="26.5" text-anchor="end">0,0</text>
<text x="573.2" y="424.7" font-size="26.5" text-anchor="end">0,2</text>
<text x="573.2" y="394.9" font-size="26.5" text-anchor="end">0,4</text>
<text x="573.2" y="365.2" font-size="26.5" text-anchor="end">0,6</text>
<text x="573.2" y="335.4" font-size="26.5" text-anchor="end">0,8</text>
<text x="573.2" y="305.6" font-size="26.5" text-anchor="end">1,0</text>
<text x="573.2" y="275.8" font-size="26.5" text-anchor="end">1,2</text>
<text x="573.2" y="246.0" font-size="26.5" text-anchor="end">1,4</text>
<text x="573.2" y="216.3" font-size="26.5" text-anchor="end">1,6</text>
<text x="573.2" y="186.5" font-size="26.5" text-anchor="end">1,8</text>
<text x="573.2" y="156.7" font-size="26.5" text-anchor="end">2,0</text>
<text x="573.2" y="126.9" font-size="26.5" text-anchor="end">2,2</text>
<text x="649.6" y="476.0" font-size="24.5" text-anchor="middle">1</text>
<text x="780.3" y="476.0" font-size="24.5" text-anchor="middle">10</text>
<text x="909.5" y="476.0" font-size="24.5" text-anchor="middle">100</text>
<path d="M0.2112 -0.6507 L0.7659 -0.6507 L0.7169 -0.4865 L0.6977 -0.4929 C0.7019 -0.5633 0.6827 -0.6038 0.5761 -0.6070 L0.4054 -0.6081 L0.2155 -0.0832 C0.2027 -0.0405 0.2134 -0.0192 0.2987 -0.0160 L0.2966 0.0011 L0.0000 0.0011 L0.0021 -0.0160 C0.0747 -0.0192 0.1013 -0.0352 0.1195 -0.0832 L0.2859 -0.5739 C0.2966 -0.6166 0.2774 -0.6337 0.2091 -0.6358 Z" transform="translate(703.3 500) scale(49)" fill="#000" stroke="none"/><text x="732.5" y="522.4" font-size="33" font-style="italic">r</text>
<g transform="translate(508 272) rotate(-90)" font-style="italic"><path d="M0.4486 -0.4063 C0.4302 -0.3831 0.3738 -0.3126 0.3381 -0.2670 C0.3024 -0.2215 0.2628 -0.1688 0.2343 -0.1331 C0.2059 -0.0974 0.1830 -0.0751 0.1674 -0.0528 C0.1518 -0.0304 0.1495 -0.0193 0.1406 0.0008 C0.1317 0.0209 0.1244 0.0454 0.1138 0.0678 C0.1032 0.0901 0.0882 0.1169 0.0770 0.1347 C0.0658 0.1526 0.0547 0.1665 0.0469 0.1749 C0.0391 0.1833 0.0357 0.1844 0.0301 0.1849 C0.0246 0.1855 0.0173 0.1833 0.0134 0.1782 C0.0095 0.1732 0.0061 0.1643 0.0067 0.1548 C0.0073 0.1453 0.0089 0.1358 0.0167 0.1213 C0.0246 0.1068 0.0407 0.0856 0.0536 0.0678 C0.0664 0.0499 0.0820 0.0298 0.0937 0.0142 C0.1055 -0.0014 0.1181 -0.0171 0.1239 -0.0260 C0.1297 -0.0349 0.1278 -0.0371 0.1286 -0.0394 C0.1306 -0.0483 0.1364 -0.0717 0.1406 -0.0929 C0.1448 -0.1141 0.1501 -0.1432 0.1540 -0.1666 C0.1579 -0.1900 0.1616 -0.2112 0.1640 -0.2335 C0.1665 -0.2559 0.1693 -0.2838 0.1687 -0.3005 C0.1682 -0.3172 0.1665 -0.3262 0.1607 -0.3340 C0.1549 -0.3418 0.1428 -0.3463 0.1339 -0.3474 C0.1250 -0.3485 0.1161 -0.3463 0.1071 -0.3407 C0.0982 -0.3351 0.0882 -0.3245 0.0803 -0.3139 C0.0725 -0.3033 0.0636 -0.2832 0.0603 -0.2771 L0.0402 -0.2804 C0.0424 -0.2871 0.0458 -0.3050 0.0536 -0.3206 C0.0614 -0.3362 0.0759 -0.3602 0.0870 -0.3742 C0.0982 -0.3881 0.1094 -0.3976 0.1205 -0.4043 C0.1317 -0.4110 0.1428 -0.4138 0.1540 -0.4143 C0.1652 -0.4149 0.1791 -0.4132 0.1875 -0.4076 C0.1958 -0.4021 0.2011 -0.3931 0.2042 -0.3809 C0.2073 -0.3686 0.2073 -0.3530 0.2062 -0.3340 C0.2051 -0.3150 0.2012 -0.2916 0.1975 -0.2670 C0.1938 -0.2425 0.1892 -0.2123 0.1841 -0.1867 C0.1791 -0.1610 0.1702 -0.1253 0.1674 -0.1130 C0.1786 -0.1275 0.2109 -0.1688 0.2343 -0.2001 C0.2578 -0.2313 0.2846 -0.2661 0.3080 -0.3005 C0.3314 -0.3349 0.3638 -0.3887 0.3750 -0.4063 Z" transform="translate(-0.3 0) scale(55)" fill="#000" stroke="none"/><text x="19.5" y="21.9" font-size="32">r</text><text x="31" y="-29.8" font-size="33">-1</text></g>
<text x="633.4" y="289.9" font-size="18" textLength="35" lengthAdjust="spacing">(1,1)</text>
<path d="M627.2 127.4 H678.1" stroke="#ff0000" stroke-width="2.2" stroke-linecap="round" fill="none"/>
<text x="683.6" y="135.1" font-size="22" font-style="italic">K</text><text x="698.9" y="143.7" font-size="13.5" font-style="italic">r</text>
<path d="M705.4 127.5 h11.7 M704.5 131.79999999999998 h11.7" stroke="#000" stroke-width="1.35" fill="none"/>
<text x="719.8" y="135.1" font-size="20.4">1.20</text>
<path d="M627.2 162.6 H678.1" stroke="#d40032" stroke-width="2.2" stroke-linecap="round" fill="none"/>
<text x="683.6" y="170.29999999999998" font-size="22" font-style="italic">K</text><text x="698.9" y="178.89999999999998" font-size="13.5" font-style="italic">r</text>
<path d="M710.4 162.7 h11.7 M709.5 166.99999999999997 h11.7" stroke="#000" stroke-width="1.35" fill="none"/>
<text x="724.9" y="170.29999999999998" font-size="20.4">1.00</text>
<path d="M627.2 197.7 H678.1" stroke="#a00060" stroke-width="2.2" stroke-linecap="round" fill="none"/>
<text x="683.6" y="205.39999999999998" font-size="22" font-style="italic">K</text><text x="698.9" y="213.99999999999997" font-size="13.5" font-style="italic">r</text>
<path d="M705.4 197.79999999999998 h11.7 M704.5 202.09999999999997 h11.7" stroke="#000" stroke-width="1.35" fill="none"/>
<text x="719.4" y="205.39999999999998" font-size="20.4">0.92</text>
<path d="M767.2 127.4 H818.9" stroke="#800080" stroke-width="2.2" stroke-linecap="round" fill="none"/>
<text x="824.4" y="135.1" font-size="22" font-style="italic">K</text><text x="839.6999999999999" y="143.7" font-size="13.5" font-style="italic">r</text>
<path d="M846.5 127.5 h11.7 M845.6 131.79999999999998 h11.7" stroke="#000" stroke-width="1.35" fill="none"/>
<text x="864.4" y="135.1" font-size="20.4">0.88</text>
<path d="M767.2 162.6 H818.9" stroke="#4040c8" stroke-width="2.2" stroke-linecap="round" fill="none"/>
<text x="824.4" y="170.29999999999998" font-size="22" font-style="italic">K</text><text x="839.6999999999999" y="178.89999999999998" font-size="13.5" font-style="italic">r</text>
<path d="M846.5 162.7 h11.7 M845.6 166.99999999999997 h11.7" stroke="#000" stroke-width="1.35" fill="none"/>
<text x="864.4" y="170.29999999999998" font-size="20.4">0.85</text>
<path d="M767.2 197.7 H818.9" stroke="#0080ff" stroke-width="2.2" stroke-linecap="round" fill="none"/>
<text x="824.4" y="205.39999999999998" font-size="22" font-style="italic">K</text><text x="839.6999999999999" y="213.99999999999997" font-size="13.5" font-style="italic">r</text>
<path d="M851.9 197.79999999999998 h11.7 M851.0 202.09999999999997 h11.7" stroke="#000" stroke-width="1.35" fill="none"/>
<text x="864.4" y="205.39999999999998" font-size="20.4">0.84</text>
</svg>
</body></html>
